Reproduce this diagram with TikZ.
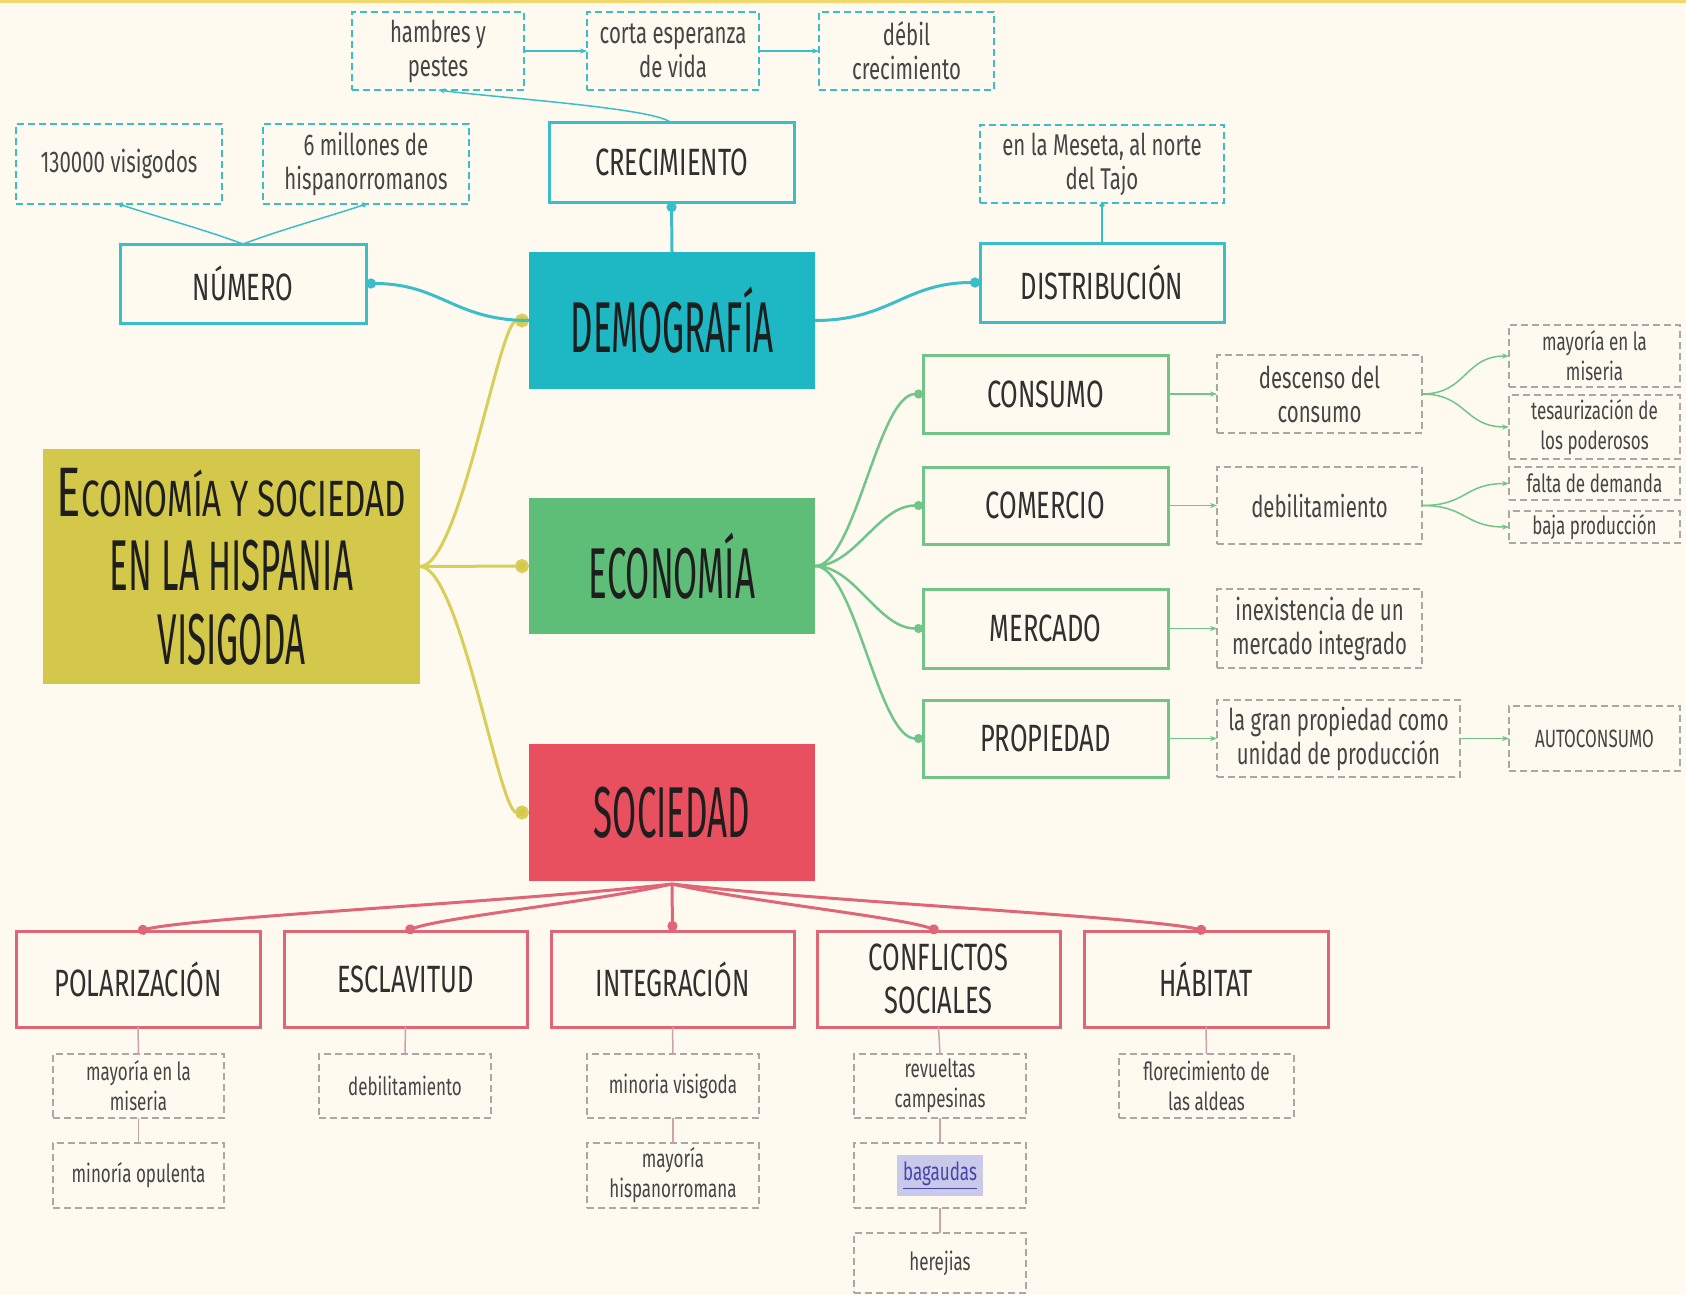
\documentclass[tikz,border=0pt]{standalone}
\usepackage{fontspec}
\setmainfont{Fira Sans}
\newfontfamily\tfont{Fira Sans}[FakeStretch=0.485]
\newfontfamily\mfont{Fira Sans}[FakeStretch=0.65]
\newfontfamily\lfont{Fira Sans}[FakeStretch=0.67]
\newfontfamily\sfont{Fira Sans}[FakeStretch=0.68]
\usetikzlibrary{arrows.meta}
\definecolor{cBg}{HTML}{FEFAF0}
\definecolor{cTop}{HTML}{F3D870}
\definecolor{cTeal}{HTML}{1DB8C4}
\definecolor{cTealB}{HTML}{3BBEC8}
\definecolor{cGreen}{HTML}{5EBE78}
\definecolor{cGreenB}{HTML}{72C589}
\definecolor{cRed}{HTML}{E84F5F}
\definecolor{cRedB}{HTML}{E06676}
\definecolor{cRedL}{HTML}{CDA2A8}
\definecolor{cYel}{HTML}{D3C84A}
\definecolor{cYelL}{HTML}{D8CE58}
\definecolor{cDash}{HTML}{A8A8A8}
\definecolor{cTxt}{HTML}{1E1E1E}
\definecolor{cLbl}{HTML}{303030}
\definecolor{cSm}{HTML}{454545}
\definecolor{cLink}{HTML}{4646A8}
\definecolor{cHi}{HTML}{C9C9EA}
\newcommand\bx[7]{\node[#2, minimum width={(#5-#3)*0.5pt}, minimum height={(#6-#4)*0.5pt}] (#1) at ({(#3+#5)/2},{(#4+#6)/2}) {#7};}
\newcommand\BigC[1]{{\fontsize{35}{37}\selectfont #1}}
\tikzset{
  tbox/.style={fill=#1, draw=none, inner sep=0pt, outer sep=0pt, text=cTxt, align=center,
    font=\tfont\fontsize{36}{37}\selectfont},
  lbox/.style={draw=#1, fill=cBg, line width=1.5pt, inner sep=0pt, outer sep=0pt, text=cLbl, align=center,
    font=\lfont\fontsize{19}{21.5}\selectfont},
  dbox/.style={draw=#1, fill=cBg, line width=0.75pt, dash pattern=on 3.5pt off 2pt, inner sep=0pt, outer sep=0pt,
    text=cSm, align=center, font=\sfont\fontsize{15}{17}\selectfont},
  dsm/.style={dbox=#1, font=\sfont\fontsize{12.5}{15}\selectfont},
  conn/.style={draw=#1, line width=1.5pt},
  thin/.style={draw=#1, line width=0.75pt},
  dot/.style={-{Circle[length=#1]}},
}
\begin{document}
\begin{tikzpicture}[x=0.5pt,y=-0.5pt]
\fill[cBg] (0,0) rectangle (1686,1295);
\useasboundingbox (0,0) rectangle (1686,1295);
\fill[cTop] (0,0) rectangle (1686,3);

% ---- Demografia ----
\bx{hamb}{dbox=cTealB}{352}{12}{524}{90}{hambres y\\pestes}
\bx{corta}{dbox=cTealB}{587}{12}{759}{90}{corta esperanza\\de vida}
\bx{debil}{dbox=cTealB}{819}{12}{994}{90}{débil\\crecimiento}
\bx{cre}{lbox=cTealB}{549}{123}{794}{202}{CRECIMIENTO}
\bx{demo}{tbox=cTeal}{529}{252}{815}{389}{DEMOGRAFÍA}
\bx{num}{lbox=cTealB}{120}{244}{366}{323}{NÚMERO}
\bx{vis}{dbox=cTealB}{16}{124}{222}{204}{130000 visigodos}
\bx{mil}{dbox=cTealB}{263}{124}{469}{204}{6 millones de\\hispanorromanos}
\bx{dist}{lbox=cTealB}{980}{243}{1224}{322}{DISTRIBUCIÓN}
\bx{mes}{dbox=cTealB}{980}{125}{1224}{203}{en la Meseta, al norte\\del Tajo}

% ---- Main ----
\bx{main}{tbox=cYel}{43}{449}{420}{684}{\mfont\fontsize{25.5}{37}\selectfont \BigC{E}CONOMÍA Y SOCIEDAD\\EN LA \BigC{H}ISPANIA\\VISIGODA}
\bx{econ}{tbox=cGreen}{529}{498}{815}{634}{ECONOMÍA}
\bx{soc}{tbox=cRed}{529}{744}{815}{881}{SOCIEDAD}

% ---- Economia ----
\bx{cons}{lbox=cGreenB}{923}{355}{1168}{433}{CONSUMO}
\bx{come}{lbox=cGreenB}{923}{467}{1168}{544}{COMERCIO}
\bx{merc}{lbox=cGreenB}{923}{589}{1168}{668}{MERCADO}
\bx{prop}{lbox=cGreenB}{923}{700}{1168}{777}{PROPIEDAD}
\bx{desc}{dbox=cDash}{1217}{355}{1422}{433}{descenso del\\consumo}
\bx{debi}{dbox=cDash}{1217}{467}{1422}{544}{debilitamiento}
\bx{inex}{dbox=cDash}{1217}{589}{1422}{668}{inexistencia de un\\mercado integrado}
\bx{gran}{dbox=cDash}{1217}{700}{1460}{777}{la gran propiedad como\\unidad de producción}
\bx{auto}{dsm=cDash}{1509}{706}{1680}{771}{AUTOCONSUMO}
\bx{maym}{dsm=cDash}{1509}{325}{1680}{387}{mayoría en la\\miseria}
\bx{tesa}{dsm=cDash}{1509}{395}{1680}{459}{tesaurización de\\los poderosos}
\bx{falt}{dsm=cDash}{1509}{467}{1680}{500}{falta de demanda}
\bx{baja}{dsm=cDash}{1509}{511}{1680}{543}{baja producción}

% ---- Sociedad ----
\bx{pol}{lbox=cRedB}{16}{931}{260}{1027}{POLARIZACIÓN}
\bx{esc}{lbox=cRedB}{284}{931}{527}{1027}{ESCLAVITUD}
\bx{integ}{lbox=cRedB}{551}{931}{794}{1027}{INTEGRACIÓN}
\bx{conf}{lbox=cRedB}{817}{931}{1060}{1027}{CONFLICTOS\\SOCIALES}
\bx{hab}{lbox=cRedB}{1084}{931}{1328}{1027}{HÁBITAT}
\bx{pm1}{dsm=cDash}{53}{1054}{224}{1118}{mayoría en la\\miseria}
\bx{pm2}{dsm=cDash}{53}{1143}{224}{1208}{minoría opulenta}
\bx{ed1}{dsm=cDash}{319}{1054}{491}{1118}{debilitamiento}
\bx{im1}{dsm=cDash}{587}{1054}{759}{1118}{minoria visigoda}
\bx{im2}{dsm=cDash}{587}{1143}{759}{1208}{mayoría\\hispanorromana}
\bx{cr1}{dsm=cDash}{854}{1054}{1026}{1118}{revueltas\\campesinas}
\bx{cr2}{dsm=cDash}{854}{1143}{1026}{1208}{\colorbox{cHi}{\textcolor{cLink}{\underline{bagaudas}}}}
\bx{cr3}{dsm=cDash}{854}{1233}{1026}{1293}{herejias}
\bx{hb1}{dsm=cDash}{1119}{1054}{1294}{1118}{florecimiento de\\las aldeas}

% ---- connectors: main ----
\draw[conn=cYelL, -{Circle[length=7pt,fill=cYel]}] (main.east) .. controls +(40,0) and +(-30,0) .. (demo.west);
\draw[conn=cYelL, -{Circle[length=7pt,fill=cYel]}] (main.east) -- (econ.west);
\draw[conn=cYelL, -{Circle[length=7pt,fill=cYel]}] (main.east) .. controls +(40,0) and +(-30,0) .. (soc.west);

% ---- connectors: demografia ----
\draw[conn=cTealB, dot=5pt] (demo.west) .. controls +(-75,0) and +(75,0) .. (num.east);
\draw[conn=cTealB, dot=5pt] (demo.east) .. controls +(75,0) and +(-75,0) .. (dist.west);
\draw[conn=cTealB, dot=5pt] (demo.north) -- (cre.south);
\draw[thin=cTealB, -{Stealth[length=3.5pt]}] (cre.north) .. controls +(-15,-15) and +(60,8) .. (hamb.south);
\draw[thin=cTealB, -{Stealth[length=3.5pt]}] (hamb.east) -- (corta.west);
\draw[thin=cTealB, -{Stealth[length=3.5pt]}] (corta.east) -- (debil.west);
\draw[thin=cTealB, dot=2.5pt] (num.north) .. controls +(-40,-15) and +(35,12) .. (vis.south);
\draw[thin=cTealB, dot=2.5pt] (num.north) .. controls +(40,-15) and +(-35,12) .. (mil.south);
\draw[thin=cTealB, dot=2.5pt] (dist.north) -- (mes.south);

% ---- connectors: economia ----
\foreach \t in {cons,come,merc,prop}{
  \draw[conn=cGreenB, line width=1.25pt, dot=4.5pt] (econ.east) .. controls +(40,0) and +(-45,0) .. (\t.west);
}
\draw[thin=cGreenB, -{Stealth[length=3.5pt]}] (cons.east) -- (desc.west);
\draw[thin=cGreenB, -{Stealth[length=3.5pt]}] (come.east) -- (debi.west);
\draw[thin=cGreenB, -{Stealth[length=3.5pt]}] (merc.east) -- (inex.west);
\draw[thin=cGreenB, -{Stealth[length=3.5pt]}] (prop.east) -- (gran.west);
\draw[thin=cGreenB, -{Stealth[length=3.5pt]}] (gran.east) -- (auto.west);
\draw[thin=cGreenB, -{Stealth[length=3.5pt]}] (desc.east) .. controls +(45,0) and +(-45,0) .. (maym.west);
\draw[thin=cGreenB, -{Stealth[length=3.5pt]}] (desc.east) .. controls +(45,0) and +(-45,0) .. (tesa.west);
\draw[thin=cGreenB, -{Stealth[length=3.5pt]}] (debi.east) .. controls +(45,0) and +(-45,0) .. (falt.west);
\draw[thin=cGreenB, -{Stealth[length=3.5pt]}] (debi.east) .. controls +(45,0) and +(-45,0) .. (baja.west);

% ---- connectors: sociedad ----
\coordinate (so) at ([yshift=-1.5pt]soc.south);
\draw[conn=cRedB, dot=5pt] (so) .. controls +(-160,18) and +(60,-14) .. (pol.north);
\draw[conn=cRedB, dot=5pt] (so) .. controls +(-80,18) and +(40,-14) .. (esc.north);
\draw[conn=cRedB, dot=5pt] (so) -- (integ.north);
\draw[conn=cRedB, dot=5pt] (so) .. controls +(80,18) and +(-40,-14) .. (conf.north);
\draw[conn=cRedB, dot=5pt] (so) .. controls +(160,18) and +(-60,-14) .. (hab.north);
\draw[thin=cRedL] (pol.south) -- (pm1.north);
\draw[thin=cRedL] (pm1.south) -- (pm2.north);
\draw[thin=cRedL] (esc.south) -- (ed1.north);
\draw[thin=cRedL] (integ.south) -- (im1.north);
\draw[thin=cRedL] (im1.south) -- (im2.north);
\draw[thin=cRedL] (conf.south) -- (cr1.north);
\draw[thin=cRedL] (cr1.south) -- (cr2.north);
\draw[thin=cRedL] (cr2.south) -- (cr3.north);
\draw[thin=cRedL] (hab.south) -- (hb1.north);
\end{tikzpicture}
\end{document}
